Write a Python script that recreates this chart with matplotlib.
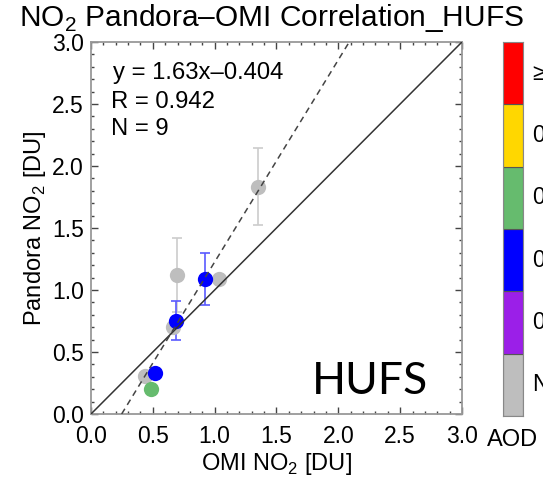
"""NO2 Pandora-OMI correlation scatter for the HUFS site."""

import matplotlib
matplotlib.use("Agg")
import matplotlib.pyplot as plt
from matplotlib.ticker import MultipleLocator

plt.rcParams["font.family"] = ["Liberation Sans", "DejaVu Sans"]
plt.rcParams["mathtext.fontset"] = "custom"
plt.rcParams["mathtext.rm"] = "Liberation Sans"

# OMI vs Pandora NO2 [DU], one entry per matched day
omi_no2 = [1.353, 0.693, 1.035, 0.660, 0.437, 0.924, 0.690, 0.517, 0.483]
pandora_no2 = [1.833, 1.121, 1.089, 0.699, 0.306, 1.086, 0.753, 0.333, 0.202]
pandora_err = [0.31, 0.30, 0.0, 0.0, 0.0, 0.21, 0.16, 0.0, 0.0]
aod_class = ["NaN", "NaN", "NaN", "NaN", "NaN", "0.2-0.4", "0.2-0.4", "0.2-0.4", "0.4-0.6"]

aod_labels = ["NaN", "0.0-0.2", "0.2-0.4", "0.4-0.6", "0.6-0.8", "\u22650.8"]
aod_colors = ["#bebebe", "#9b1fe8", "#0000ff", "#66bb6e", "#ffd700", "#ff0000"]
err_colors = {"NaN": "#cccccc", "0.2-0.4": "#5a5aff", "0.4-0.6": "#66bb6e"}

slope, intercept = 1.63, -0.404
r_value = 0.942

fig = plt.figure(figsize=(5.43, 4.82), dpi=100)
ax = fig.add_axes([0.1676, 0.1411, 0.6832, 0.7718])

color_of = dict(zip(aod_labels, aod_colors))
for x, y, e, c in zip(omi_no2, pandora_no2, pandora_err, aod_class):
    if e > 0:
        ax.errorbar(x, y, yerr=e, fmt="none", ecolor=err_colors[c], elinewidth=1.2,
                    capsize=3.8, capthick=1.2, zorder=2)
    ax.plot(x, y, "o", ms=11, color=color_of[c], mec="none", zorder=3)

ax.plot([0, 3], [0, 3], color="#333333", lw=1.1, zorder=4)
x0 = -intercept / slope
x1 = (3 - intercept) / slope
ax.plot([x0, x1], [slope * x0 + intercept, slope * x1 + intercept],
        color="#444444", lw=1.1, ls=(0, (4, 3)), zorder=4)

ax.set_xlim(0, 3)
ax.set_ylim(0, 3)
ax.xaxis.set_major_locator(MultipleLocator(0.5))
ax.yaxis.set_major_locator(MultipleLocator(0.5))
ax.xaxis.set_minor_locator(MultipleLocator(0.1))
ax.yaxis.set_minor_locator(MultipleLocator(0.1))
ax.tick_params(which="both", direction="in", top=True, right=True, color="#444444",
               labelsize=16.5, width=1)
ax.tick_params(which="major", length=5)
ax.tick_params(which="minor", length=2.5)
ax.tick_params(axis="x", pad=8)
ax.tick_params(axis="y", pad=5)
for sp in ax.spines.values():
    sp.set_color("#999999")
    sp.set_linewidth(1.3)

ax.set_xlabel(r"OMI NO$_\mathregular{2}$ [DU]", fontsize=17, labelpad=2)
ax.set_ylabel(r"Pandora NO$_\mathregular{2}$ [DU]", fontsize=17, labelpad=3)
fig.text(0.50, 0.962, "NO$_\\mathregular{2}$ Pandora\u2013OMI Correlation_HUFS",
         fontsize=21.5, ha="center", va="center")

ax.text(0.18, 2.75, f"y = {slope:.2f}x\u2013{-intercept:.3f}", fontsize=17.2, va="center")
ax.text(0.165, 2.52, f"R = {r_value:.3f}", fontsize=17.2, va="center")
ax.text(0.165, 2.30, f"N = {len(omi_no2)}", fontsize=17.2, va="center")
ax.text(2.73, 0.26, "HUFS", fontsize=32, family="Lato", ha="right", va="center")

# AOD colour key
cax = fig.add_axes([0.9263, 0.1369, 0.0368, 0.776])
for i, (lab, col) in enumerate(zip(aod_labels, aod_colors)):
    cax.bar(0.5, 1, width=1, bottom=i, color=col, edgecolor="#555555", lw=0.8)
    cax.text(1.45, i + 0.5, lab, fontsize=16.5, va="center", ha="left", clip_on=False)
cax.set_xlim(0, 1)
cax.set_ylim(0, len(aod_labels))
cax.set_xticks([])
cax.set_yticks([])
for sp in cax.spines.values():
    sp.set_color("#888888")
cax.text(0.5, -0.38, "AOD", fontsize=17, ha="center", va="center")

fig.savefig("out.png", dpi=100)
